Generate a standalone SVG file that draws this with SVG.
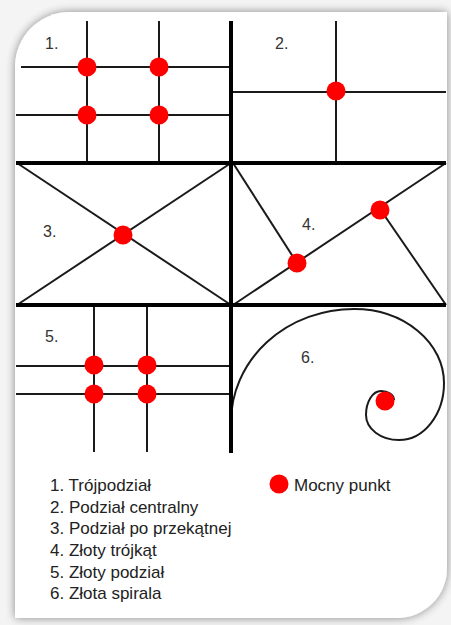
<svg xmlns="http://www.w3.org/2000/svg" width="451" height="625" viewBox="0 0 451 625">
<defs>
<filter id="sh" x="-10%" y="-10%" width="120%" height="120%">
<feGaussianBlur in="SourceAlpha" stdDeviation="5"/>
<feOffset dx="0" dy="0"/>
<feComponentTransfer><feFuncA type="linear" slope="0.45"/></feComponentTransfer>
<feMerge><feMergeNode/><feMergeNode in="SourceGraphic"/></feMerge>
</filter>
</defs>
<style>
.thin{stroke:#1a1a1a;stroke-width:2;fill:none;stroke-linecap:butt}
.thick{stroke:#000;stroke-width:4;fill:none}
.dot{fill:#ff0000}
.num{font-family:"Liberation Sans",Arial,sans-serif;font-size:16px;fill:#333}
.leg{font-family:"Liberation Sans",Arial,sans-serif;font-size:17px;fill:#222}
</style>
<rect x="0" y="0" width="451" height="625" fill="#f4f4f4"/>
<path id="card" d="M70,12 H447 V568 A50,50 0 0 1 397,618 H15 V67 A55,55 0 0 1 70,12 Z" fill="#fff" filter="url(#sh)"/>
<g id="connectors">
<line class="thin" x1="87" y1="21" x2="87" y2="163"/>
<line class="thin" x1="159" y1="21" x2="159" y2="163"/>
<line class="thin" x1="21" y1="67" x2="231" y2="67"/>
<line class="thin" x1="16" y1="115" x2="231" y2="115"/>
<line class="thin" x1="336" y1="21" x2="336" y2="163"/>
<line class="thin" x1="231" y1="92" x2="446" y2="92"/>
<line class="thin" x1="17" y1="163" x2="231" y2="305"/>
<line class="thin" x1="17" y1="305" x2="231" y2="163"/>
<line class="thin" x1="233" y1="305" x2="446" y2="163"/>
<line class="thin" x1="233" y1="163" x2="297" y2="263"/>
<line class="thin" x1="380" y1="209" x2="446" y2="305"/>
<line class="thin" x1="94" y1="305" x2="94" y2="452"/>
<line class="thin" x1="147" y1="305" x2="147" y2="452"/>
<line class="thin" x1="16" y1="366" x2="231" y2="366"/>
<line class="thin" x1="16" y1="394" x2="231" y2="394"/>
<path class="thin" d="M231,422 A123,113 0 0 1 354,309 A90,74 0 0 1 444,383 A45,57 0 0 1 399,440 A33,25 0 0 1 366,415 A15,24 0 0 1 381,391 A13,9 0 0 1 394,400"/>
<line class="thick" x1="231" y1="21" x2="231" y2="453"/>
<line class="thick" x1="16" y1="163" x2="446" y2="163"/>
<line class="thick" x1="16" y1="305" x2="446" y2="305"/>
</g>
<g id="panel1">
<circle class="dot" cx="87" cy="67" r="9.5"/>
<circle class="dot" cx="159" cy="67" r="9.5"/>
<circle class="dot" cx="87" cy="115" r="9.5"/>
<circle class="dot" cx="159" cy="115" r="9.5"/>
<text class="num" x="45" y="49">1.</text>
</g>
<g id="panel2">
<circle class="dot" cx="336" cy="91" r="9.5"/>
<text class="num" x="275" y="49">2.</text>
</g>
<g id="panel3">
<circle class="dot" cx="123" cy="235" r="9.5"/>
<text class="num" x="43" y="237">3.</text>
</g>
<g id="panel4">
<circle class="dot" cx="297" cy="263" r="9.5"/>
<circle class="dot" cx="380" cy="210" r="9.5"/>
<text class="num" x="302" y="230">4.</text>
</g>
<g id="panel5">
<circle class="dot" cx="94" cy="365" r="9.5"/>
<circle class="dot" cx="147" cy="365" r="9.5"/>
<circle class="dot" cx="94" cy="394" r="9.5"/>
<circle class="dot" cx="147" cy="394" r="9.5"/>
<text class="num" x="45" y="342">5.</text>
</g>
<g id="panel6">
<circle class="dot" cx="385" cy="401" r="9.5"/>
<text class="num" x="301" y="363">6.</text>
</g>
<g id="legend">
<text class="leg" x="50" y="491">1. Trójpodział</text>
<text class="leg" x="50" y="513">2. Podział centralny</text>
<text class="leg" x="50" y="534">3. Podział po przekątnej</text>
<text class="leg" x="50" y="556">4. Złoty trójkąt</text>
<text class="leg" x="50" y="578">5. Złoty podział</text>
<text class="leg" x="50" y="599">6. Złota spirala</text>
<circle class="dot" cx="279" cy="484" r="9.5"/>
<text class="leg" x="294" y="491">Mocny punkt</text>
</g>
</svg>
